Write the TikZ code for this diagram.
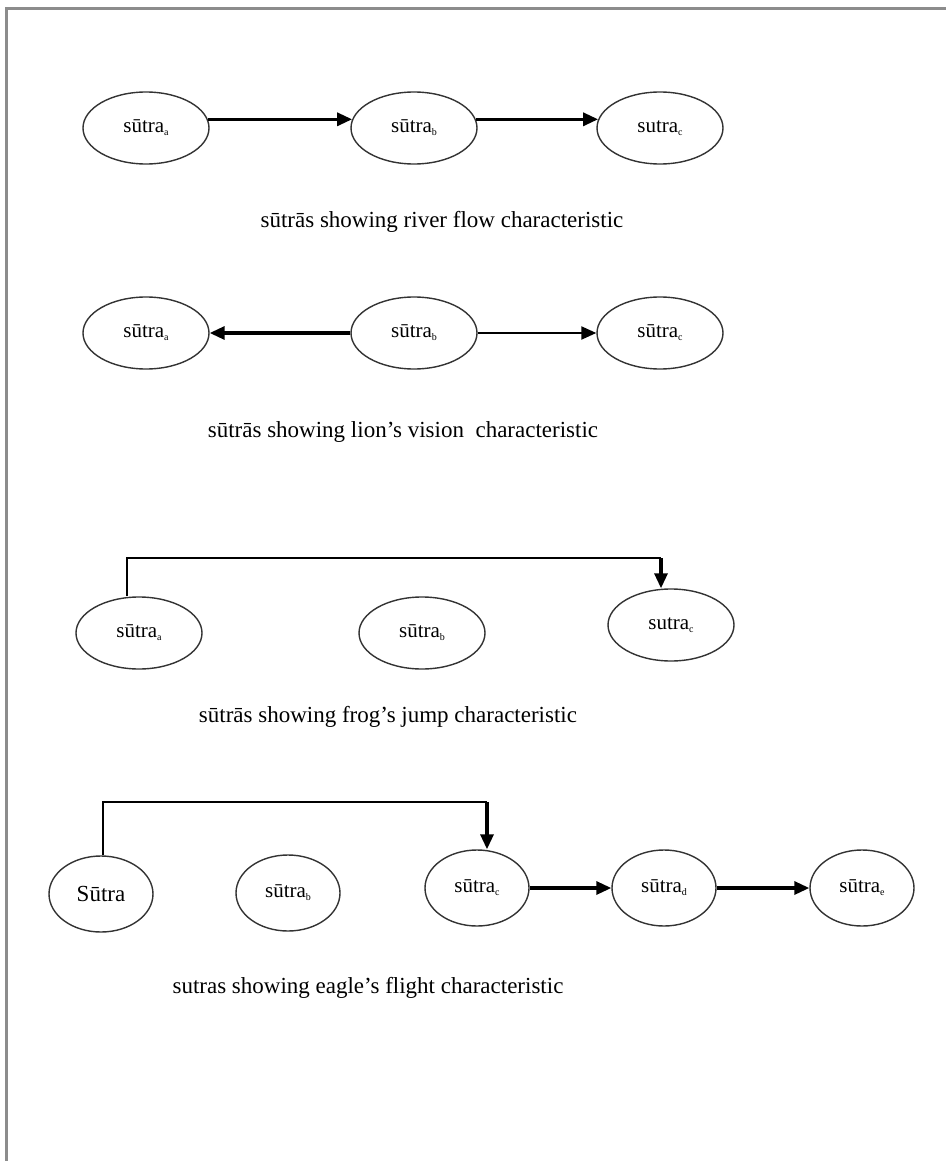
\documentclass[tikz,border=0pt]{standalone}
\usepackage{fontspec}
\setmainfont{Liberation Serif}
\usetikzlibrary{arrows.meta,shapes.geometric}
% small lowered index letter after a word
\newcommand{\lowidx}[1]{\raisebox{-3pt}{\fontsize{10}{10}\selectfont #1}}
\begin{document}
\begin{tikzpicture}[x=1pt,y=-1pt,
  sutra/.style={draw=black!80, line width=1.4pt, ellipse, minimum width=126pt,
    minimum height=72pt, inner sep=0pt, font=\fontsize{21}{21}\selectfont},
  smallsutra/.style={sutra, minimum width=104pt, minimum height=76pt},
  flow/.style={line width=3.2pt, -{Triangle[length=15pt,width=13pt]}},
  thinflow/.style={line width=2.2pt, -{Triangle[length=15pt,width=13pt]}},
  jump/.style={line width=1.8pt},
  caption/.style={font=\fontsize{23}{23}\selectfont, inner sep=0pt},
  frame/.style={draw=black!45, line width=3pt}]

\useasboundingbox (0,0) rectangle (946,1161);
\fill[white] (0,0) rectangle (946,1161);
\draw[frame] (6,1161) -- (6,9) -- (946,9);

% river flow
\node[sutra] (a1) at (146,128) {sūtra\lowidx{a}};
\node[sutra] (b1) at (414,128) {sūtra\lowidx{b}};
\node[sutra] (c1) at (660,128) {sutra\lowidx{c}};
\draw[flow] (a1.8) -- (b1.172);
\draw[flow] (b1.8) -- (c1.172);
\node[caption] (t1) at (442,222) {sūtrās showing river flow characteristic};

% lion's vision
\node[sutra] (a2) at (146,333) {sūtra\lowidx{a}};
\node[sutra] (b2) at (414,333) {sūtra\lowidx{b}};
\node[sutra] (c2) at (660,333) {sūtra\lowidx{c}};
\draw[flow] (b2.west) -- (a2.east);
\draw[thinflow] (b2.east) -- (c2.west);
\node[caption] (t2) at (403,432) {sūtrās showing lion’s vision\ \ characteristic};

% frog's jump
\node[sutra] (a3) at (139,633) {sūtra\lowidx{a}};
\node[sutra] (b3) at (422,633) {sūtra\lowidx{b}};
\node[sutra] (c3) at (671,625) {sutra\lowidx{c}};
\coordinate (k3) at (661,558);
\draw[jump] ([xshift=-12pt]a3.north) |- (k3);
\draw[flow] (k3) -- (k3 |- c3.north);
\node[caption] (t3) at (388,717) {sūtrās showing frog’s jump characteristic};

% eagle's flight
\node[smallsutra, font=\fontsize{23}{23}\selectfont] (a4) at (101,894) {Sūtra};
\node[smallsutra] (b4) at (288,893) {sūtra\lowidx{b}};
\node[smallsutra] (c4) at (477,888) {sūtra\lowidx{c}};
\node[smallsutra] (d4) at (664,888) {sūtra\lowidx{d}};
\node[smallsutra] (e4) at (862,888) {sūtra\lowidx{e}};
\coordinate (k4) at (487,802);
\draw[jump] ([xshift=2pt]a4.north) |- (k4);
\draw[flow] (k4) -- (k4 |- c4.north);
\draw[flow] (c4.east) -- (d4.west);
\draw[flow] (d4.east) -- (e4.west);
\node[caption] (t4) at (368,988) {sutras showing eagle’s flight characteristic};
\end{tikzpicture}
\end{document}
